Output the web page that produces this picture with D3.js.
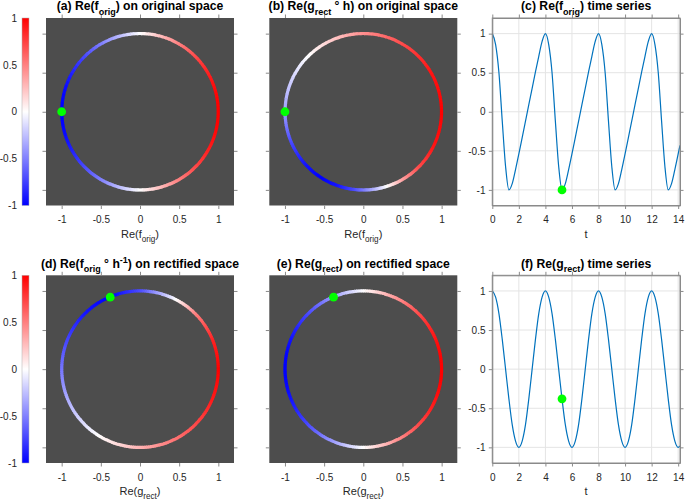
<!DOCTYPE html>
<html><head><meta charset="utf-8">
<script src="https://cdn.jsdelivr.net/npm/d3@7"></script>
<style>
body{margin:0;background:#fff;}
svg{display:block;font-family:"Liberation Sans",Arial,Helvetica,sans-serif;}
</style></head><body>
<svg id="chart" width="685" height="503"></svg>
<script>
// ---------------- data ----------------
const tValues = [0,0.25,0.5,0.75,1,1.25,1.5,1.75,2,2.25,2.5,2.75,3,3.25,3.5,3.75,
  4,4.25,4.5,4.75,5,5.25,5.5,5.75,6,6.25,6.5,6.75,7,7.25,7.5,7.75,
  8,8.25,8.5,8.75,9,9.25,9.5,9.75,10,10.25,10.5,10.75,11,11.25,11.5,11.75,
  12,12.25,12.5,12.75,13,13.25,13.5,13.75,14,14.137];
const reFOrig = [1,0.86,0.5,-0.12,-0.7,-1,-0.92,-0.74,-0.54,-0.33,-0.12,0.09,0.3,0.51,0.71,0.9,
  1,0.86,0.5,-0.12,-0.7,-1,-0.92,-0.74,-0.54,-0.33,-0.12,0.09,0.3,0.51,0.71,0.9,
  1,0.86,0.5,-0.12,-0.7,-1,-0.92,-0.74,-0.54,-0.33,-0.12,0.09,0.3,0.51,0.71,0.9,
  1,0.86,0.5,-0.12,-0.7,-1,-0.92,-0.74,-0.54,-0.43];
const reGRect = [1,0.92,0.71,0.38,0,-0.38,-0.71,-0.92,-1,-0.92,-0.71,-0.38,0,0.38,0.71,0.92,
  1,0.92,0.71,0.38,0,-0.38,-0.71,-0.92,-1,-0.92,-0.71,-0.38,0,0.38,0.71,0.92,
  1,0.92,0.71,0.38,0,-0.38,-0.71,-0.92,-1,-0.92,-0.71,-0.38,0,0.38,0.71,0.92,
  1,0.92,0.71,0.38,0,-0.38,-0.71,-0.92,-1,-0.98];
// imaginary parts over one period (t = 0 .. 4, step 0.25)
const imFOrigPeriod = [0,0.51,0.87,0.99,0.71,0,-0.39,-0.67,-0.84,-0.94,-0.99,-1,-0.95,-0.86,-0.7,-0.44,0];
const imGRectPeriod = [0,0.38,0.71,0.92,1,0.92,0.71,0.38,0,-0.38,-0.71,-0.92,-1,-0.92,-0.71,-0.38,0];
const periodLen = 16;      // samples per period
const tDot = 5.25;         // highlighted time
const circleTicks = [-1,-0.5,0,0.5,1];
const timeTicks = [0,2,4,6,8,10,12,14];
const valueTicks = [-1,-0.5,0,0.5,1];
const colorbarTicks = [-1,-0.5,0,0.5,1];

// ---------------- layout ----------------
const svg = d3.select('#chart');
const cmap = d3.scaleLinear().domain([-1,0,1]).range(['#0000ff','#ffffff','#ff0000']);
const rows = [{top:18,bottom:205.5},{top:275.3,bottom:463}];
const cols = [{left:46,right:234},{left:269.3,right:457.3},{left:492.3,right:680}];
const AX = '#8a8a8a', TXT = '#262626', TICK = 3.5, TITLE = 12.2;

function rich(g, x, y, parts, size, weight, fill){
  const t = g.append('text').attr('x',x).attr('y',y).attr('text-anchor','middle')
    .attr('font-size',size).attr('font-weight',weight).attr('fill',fill);
  let shift = 0;
  parts.forEach(p=>{
    let target = p.sub ? size*0.38 : (p.sup ? -size*0.4 : 0);
    t.append('tspan').attr('dy', target-shift)
      .attr('font-size', (p.sub||p.sup) ? size*0.74 : size).text(p.t);
    shift = target;
  });
  return t;
}
function styleAxis(sel, showDomain){
  sel.selectAll('.tick line').attr('stroke',AX);
  sel.selectAll('.tick text').attr('fill',TXT).attr('font-size',10)
     .attr('font-family','"Liberation Sans",Arial,Helvetica,sans-serif');
  sel.select('.domain').attr('stroke', showDomain ? AX : 'none');
}
function frameAxes(g, xs, ys, xTicks, yTicks, opts){
  const fmt = d=>String(d);
  const b = g.append('g').attr('transform',`translate(0,${ys.range()[0]})`)
    .call(d3.axisBottom(xs).tickValues(xTicks).tickSize(TICK).tickSizeOuter(0).tickPadding(7).tickFormat(fmt));
  const tp = g.append('g').attr('transform',`translate(0,${ys.range()[1]})`)
    .call(d3.axisTop(xs).tickValues(xTicks).tickSize(TICK).tickSizeOuter(0).tickFormat(''));
  const l = g.append('g').attr('transform',`translate(${xs.range()[0]},0)`)
    .call(d3.axisLeft(ys).tickValues(yTicks).tickSize(TICK).tickSizeOuter(0).tickPadding(3.3)
      .tickFormat(opts.yLabels ? fmt : ''));
  const r = g.append('g').attr('transform',`translate(${xs.range()[1]},0)`)
    .call(d3.axisRight(ys).tickValues(yTicks).tickSize(TICK).tickSizeOuter(0).tickFormat(''));
  [b,tp,l,r].forEach(s=>styleAxis(s, opts.domain));
}

function colorbar(row){
  const r = rows[row];
  const ys = d3.scaleLinear([-1,1],[r.bottom, r.top]);
  const id = 'cb'+row;
  const grad = svg.append('defs').append('linearGradient').attr('id',id)
    .attr('x1',0).attr('y1',1).attr('x2',0).attr('y2',0);
  d3.range(0,1.0001,0.05).forEach(f=>{
    grad.append('stop').attr('offset',f).attr('stop-color',cmap(-1+2*f));
  });
  svg.append('rect').attr('x',22).attr('y',r.top).attr('width',7).attr('height',r.bottom-r.top)
    .attr('fill',`url(#${id})`).attr('stroke','#b0b0b0').attr('stroke-width',0.5);
  const a = svg.append('g').attr('transform','translate(22,0)')
    .call(d3.axisLeft(ys).tickValues(colorbarTicks).tickSize(0).tickPadding(5).tickFormat(d=>String(d)));
  a.select('.domain').remove();
  a.selectAll('.tick text').attr('fill',TXT).attr('font-size',10)
    .attr('font-family','"Liberation Sans",Arial,Helvetica,sans-serif');
}

function circlePanel(row, col, traj, colorVals, dotXY, title, xlabel){
  const r = rows[row], c = cols[col];
  const g = svg.append('g');
  const xs = d3.scaleLinear([-1.2,1.2],[c.left,c.right]);
  const ys = d3.scaleLinear([-1.2,1.2],[r.bottom,r.top]);
  g.append('rect').attr('x',c.left).attr('y',r.top).attr('width',c.right-c.left)
    .attr('height',r.bottom-r.top).attr('fill','#4d4d4d');
  const cx = xs(0), cy = ys(0), rad = (xs(1)-xs(0)+ys(0)-ys(1))/2;
  const arc = d3.arc().innerRadius(rad-1.6).outerRadius(rad+1.6);
  const ring = g.append('g').attr('transform',`translate(${cx},${cy})`);
  const n = 14;
  for(let i=0;i<traj.re.length-1;i++){
    let a0 = Math.atan2(traj.im[i],traj.re[i]);
    let a1 = Math.atan2(traj.im[i+1],traj.re[i+1]);
    while(a1 <= a0) a1 += 2*Math.PI;
    for(let k=0;k<n;k++){
      const aa = a0+(a1-a0)*k/n, ab = a0+(a1-a0)*(k+1)/n;
      const am = (aa+ab)/2;
      const v = colorVals ? colorVals[i]+(colorVals[i+1]-colorVals[i])*(k+0.5)/n : Math.cos(am);
      ring.append('path')
        .attr('d', arc({startAngle:Math.PI/2-ab-0.004, endAngle:Math.PI/2-aa+0.004}))
        .attr('fill', cmap(v));
    }
  }
  g.append('circle').attr('cx',xs(dotXY[0])).attr('cy',ys(dotXY[1])).attr('r',4.4).attr('fill','#00ff00');
  frameAxes(g, xs, ys, circleTicks, circleTicks, {domain:false, yLabels:false});
  rich(g, (c.left+c.right)/2, r.top-7.8, title, TITLE, 'bold', '#000');
  rich(g, (c.left+c.right)/2, r.bottom+32, xlabel, 11, 'normal', TXT);
}

function timePanel(row, col, vals, title){
  const r = rows[row], c = cols[col];
  const g = svg.append('g');
  const xs = d3.scaleLinear([0,14.137],[c.left,c.right]);
  const ys = d3.scaleLinear([-1.2,1.2],[r.bottom,r.top]);
  g.append('rect').attr('x',c.left).attr('y',r.top).attr('width',c.right-c.left)
    .attr('height',r.bottom-r.top).attr('fill','#fff');
  g.selectAll('.vg').data(timeTicks).join('line').attr('x1',d=>xs(d)).attr('x2',d=>xs(d))
    .attr('y1',r.top).attr('y2',r.bottom).attr('stroke','#e4e4e4').attr('stroke-width',1);
  g.selectAll('.hg').data(valueTicks).join('line').attr('y1',d=>ys(d)).attr('y2',d=>ys(d))
    .attr('x1',c.left).attr('x2',c.right).attr('stroke','#e4e4e4').attr('stroke-width',1);
  const line = d3.line().x((d,i)=>xs(tValues[i])).y(d=>ys(d)).curve(d3.curveMonotoneX);
  g.append('path').attr('d',line(vals)).attr('fill','none').attr('stroke','#0072bd').attr('stroke-width',1.2);
  frameAxes(g, xs, ys, timeTicks, valueTicks, {domain:true, yLabels:true});
  g.append('rect').attr('x',c.left).attr('y',r.top).attr('width',c.right-c.left)
    .attr('height',r.bottom-r.top).attr('fill','none').attr('stroke',AX).attr('stroke-width',1);
  const di = tValues.indexOf(tDot);
  g.append('circle').attr('cx',xs(tDot)).attr('cy',ys(vals[di])).attr('r',4.4).attr('fill','#00ff00');
  rich(g, (c.left+c.right)/2, r.top-7.8, title, TITLE, 'bold', '#000');
  rich(g, (c.left+c.right)/2, r.bottom+32, [{t:'t'}], 11, 'normal', TXT);
}

// ---------------- build ----------------
const perRe = reFOrig.slice(0, periodLen+1), perG = reGRect.slice(0, periodLen+1);
const fTraj = {re: perRe, im: imFOrigPeriod};
const gTraj = {re: perG, im: imGRectPeriod};
const di = tValues.indexOf(tDot), pi = di % periodLen;
const fDot = [reFOrig[di], imFOrigPeriod[pi]];
const gDot = [reGRect[di], imGRectPeriod[pi]];
const labF = [{t:'Re(f'},{t:'orig',sub:true},{t:')'}];
const labG = [{t:'Re(g'},{t:'rect',sub:true},{t:')'}];

colorbar(0); colorbar(1);
circlePanel(0,0,fTraj,null,fDot,[{t:'(a) Re(f'},{t:'orig',sub:true},{t:') on original space'}],labF);
circlePanel(0,1,fTraj,perG,fDot,[{t:'(b) Re(g'},{t:'rect',sub:true},{t:' \u00B0 h) on original space'}],labF);
timePanel(0,2,reFOrig,[{t:'(c) Re(f'},{t:'orig',sub:true},{t:') time series'}]);
circlePanel(1,0,gTraj,perRe,gDot,[{t:'(d) Re(f'},{t:'orig',sub:true},{t:' \u00B0 h'},{t:'-1',sup:true},{t:') on rectified space'}],labG);
circlePanel(1,1,gTraj,null,gDot,[{t:'(e) Re(g'},{t:'rect',sub:true},{t:') on rectified space'}],labG);
timePanel(1,2,reGRect,[{t:'(f) Re(g'},{t:'rect',sub:true},{t:') time series'}]);
</script>
</body></html>
